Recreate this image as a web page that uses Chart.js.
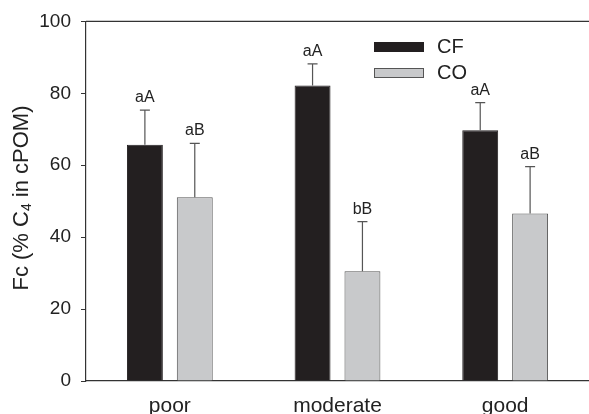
<!DOCTYPE html>
<html>
<head>
<meta charset="utf-8">
<script src="https://cdn.jsdelivr.net/npm/chart.js@4"></script>
<style>
  html, body { margin: 0; padding: 0; background: #fff; }
  #wrap { width: 589px; height: 414px; }
</style>
</head>
<body>
<div id="wrap"><canvas id="chart" width="589" height="414"></canvas></div>
<script>
// Data
const categories = ['poor', 'moderate', 'good'];
const cfValues = [65.7, 82.2, 69.7];
const cfErrors = [9.6, 6.0, 7.7];
const coValues = [51.1, 30.5, 46.6];
const coErrors = [15.0, 13.8, 13.0];
const cfLetters = ['aA', 'aA', 'aA'];
const coLetters = ['aB', 'bB', 'aB'];
const yTicks = [0, 20, 40, 60, 80, 100];

const FONT = "'Liberation Sans', Arial, sans-serif";
const errors = [cfErrors, coErrors];
const letters = [cfLetters, coLetters];

// Error bars (upper only) and letters above them
const errorBarPlugin = {
  id: 'errorBars',
  afterDatasetsDraw(chart) {
    const ctx = chart.ctx;
    const y = chart.scales.y;
    ctx.save();
    chart.data.datasets.forEach((ds, i) => {
      const meta = chart.getDatasetMeta(i);
      meta.data.forEach((bar, j) => {
        const top = y.getPixelForValue(ds.data[j] + errors[i][j]);
        ctx.strokeStyle = '#555';
        ctx.lineWidth = 1.2;
        ctx.beginPath();
        ctx.moveTo(bar.x, bar.y);
        ctx.lineTo(bar.x, top);
        ctx.moveTo(bar.x - 5, top);
        ctx.lineTo(bar.x + 5, top);
        ctx.stroke();
        ctx.fillStyle = '#222';
        ctx.font = '16px ' + FONT;
        ctx.textAlign = 'center';
        ctx.textBaseline = 'alphabetic';
        ctx.fillText(letters[i][j], bar.x, top - 8);
      });
    });
    ctx.restore();
  }
};

// Top frame line, legend and y title with subscript
const decorPlugin = {
  id: 'decor',
  afterDraw(chart) {
    const ctx = chart.ctx;
    const area = chart.chartArea;
    ctx.save();
    ctx.strokeStyle = '#333';
    ctx.lineWidth = 1.2;
    ctx.beginPath();
    ctx.moveTo(area.left, area.top);
    ctx.lineTo(area.right, area.top);
    ctx.stroke();

    // legend
    chart.data.datasets.forEach((ds, i) => {
      const ly = 42 + i * 26;
      ctx.fillStyle = ds.backgroundColor;
      ctx.fillRect(374, ly, 50, 10);
      ctx.strokeStyle = ds.borderColor;
      ctx.lineWidth = 1;
      ctx.strokeRect(374.5, ly + 0.5, 49, 9);
      ctx.fillStyle = '#222';
      ctx.font = '20px ' + FONT;
      ctx.textAlign = 'left';
      ctx.textBaseline = 'middle';
      ctx.fillText(ds.label, 437, ly + 5);
    });

    // y axis title
    const parts = [['Fc (% C', 22, 0], ['4', 14, 5], [' in cPOM)', 22, 0]];
    ctx.translate(22, 198);
    ctx.rotate(-Math.PI / 2);
    let total = 0;
    parts.forEach(p => { ctx.font = p[1] + 'px ' + FONT; total += ctx.measureText(p[0]).width; });
    let x = -total / 2;
    ctx.fillStyle = '#222';
    ctx.textAlign = 'left';
    ctx.textBaseline = 'middle';
    parts.forEach(p => {
      ctx.font = p[1] + 'px ' + FONT;
      ctx.fillText(p[0], x, p[2]);
      x += ctx.measureText(p[0]).width;
    });
    ctx.restore();
  }
};

new Chart(document.getElementById('chart'), {
  type: 'bar',
  data: {
    labels: categories,
    datasets: [
      { label: 'CF', data: cfValues, backgroundColor: '#231f20', borderColor: '#231f20', borderWidth: 1 },
      { label: 'CO', data: coValues, backgroundColor: '#c8c9cb', borderColor: '#555555', borderWidth: 1 }
    ]
  },
  options: {
    responsive: false,
    animation: false,
    devicePixelRatio: 1,
    categoryPercentage: 0.595,
    barPercentage: 0.72,
    layout: { padding: { top: 20, right: 0, left: 0, bottom: 0 } },
    plugins: { legend: { display: false }, tooltip: { enabled: false } },
    scales: {
      x: {
        grid: { drawOnChartArea: false, drawTicks: false },
        border: { color: '#333', width: 1.2 },
        ticks: { font: { family: FONT, size: 21 }, color: '#222', padding: 13 },
        afterFit(scale) { scale.height = 33; }
      },
      y: {
        min: 0,
        max: 100,
        afterBuildTicks(scale) { scale.ticks = yTicks.map(v => ({ value: v })); },
        grid: { drawOnChartArea: false, tickLength: 5, color: '#333' },
        border: { color: '#333', width: 1.2 },
        ticks: { font: { family: FONT, size: 19 }, color: '#222', padding: 10 },
        afterFit(scale) { scale.width = 86; }
      }
    }
  },
  plugins: [errorBarPlugin, decorPlugin]
});
</script>
</body>
</html>
